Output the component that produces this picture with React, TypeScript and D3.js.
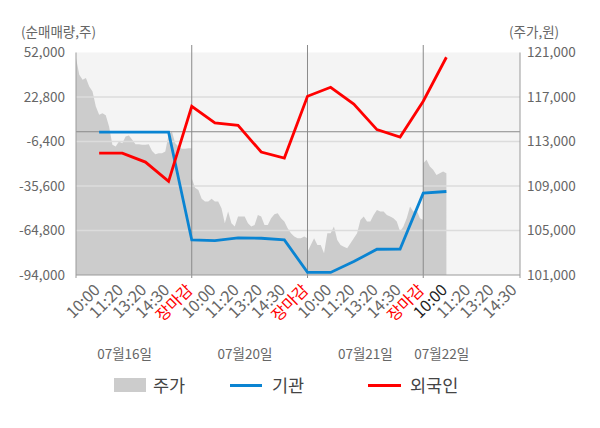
import React from "react";
import * as d3 from "d3";

// ---- data ----
const timeLabels = [
  "10:00", "11:20", "13:20", "14:30", "장마감",
  "10:00", "11:20", "13:20", "14:30", "장마감",
  "10:00", "11:20", "13:20", "14:30", "장마감",
  "10:00", "11:20", "13:20", "14:30",
];
const currentLabelIndex = 15;
const dateLabels = ["07월16일", "07월20일", "07월21일", "07월22일"];
const dateSlots = [2.1, 7.3, 12.5, 15.8];
const leftTicks = [52000, 22800, -6400, -35600, -64800, -94000];
const rightTicks = [121000, 117000, 113000, 109000, 105000, 101000];

// 기관 / 외국인 net volumes at 10:00, 11:20, 13:20, 14:30, 장마감 each day
const institution = [
  -300, -300, -300, -300, -71000,
  -71400, -69700, -69900, -71000, -92200,
  -92300, -85200, -77100, -77000, -40300,
  -39200,
];
const foreigner = [
  -14000, -14000, -19900, -32600, 16700,
  5800, 4200, -13300, -17300, 23300,
  29200, 18200, 1400, -3500, 20000,
  48900,
];

// stock price (주가) samples per day
const priceDay1 = [
  120500, 119000, 118550, 118700, 117950, 117500, 116150, 115400, 115550, 115350,
  114350, 112700, 112550, 113000, 112850, 113450, 113550, 113150, 112750, 112750,
  112700, 112700, 112750, 112150, 111850, 111950, 111950, 112100, 113600, 113900,
  112850, 112550, 112350, 112350, 112400, 112400,
];
const priceDay2 = [
  109700, 108850, 108650, 107850, 107600, 107600, 107850, 107600, 107600, 107000,
  105650, 106700, 105650, 105350, 106250, 106250, 106250, 105650, 105350, 105500,
  106400, 106250, 105500, 105500, 106100, 106450, 106550, 106100, 105800, 105200,
  104750, 104450, 104300, 104300, 104450, 104300,
];
const priceDay3 = [
  103100, 103700, 104300, 103700, 103700, 102950, 104750, 104750, 105350, 104150,
  103700, 103550, 103400, 103850, 104300, 104750, 105950, 106250, 105800, 105800,
  106400, 106850, 106700, 106700, 106400, 106250, 106100, 105800, 104900, 105350,
  106100, 107150, 106700, 106850, 106100, 105950,
];
const priceDay4 = [111050, 111350, 110750, 110450, 110000, 110150, 110300, 110150];
const priceDays = [priceDay1, priceDay2, priceDay3, priceDay4];

const W = 600;
const H = 428;
const FONT = "'Noto Sans CJK KR', 'Noto Sans', sans-serif";

export default function App() {
  const left = 76, right = 520, top = 52.5, bottom = 275;
  const x = d3.scaleLinear().domain([0, 19.18]).range([left, right]);
  const yL = d3.scaleLinear().domain([-94000, 52000]).range([bottom, top]);
  const yR = d3.scaleLinear().domain([101000, 121000]).range([bottom, top]);

  const pricePts: [number, number][] = [];
  priceDays.forEach((arr, d) => {
    arr.forEach((v, j) => pricePts.push([5 * d + (j * 5) / 35, v]));
  });
  const area = d3
    .area<[number, number]>()
    .x((p) => x(p[0]))
    .y0(bottom)
    .y1((p) => yR(p[1]));

  const line = d3
    .line<number>()
    .x((_, i) => x(i + 1))
    .y((v) => yL(v));

  const daySlots = [5, 10, 15];

  return (
    <div style={{ position: "absolute", left: 0, top: 0 }}>
      <svg width={W} height={H} style={{ display: "block", fontFamily: FONT }}>
        <rect x={0} y={0} width={W} height={H} fill="#fff" />
        <rect x={left} y={top} width={right - left} height={bottom - top} fill="#f4f4f4" />
        <path d={area(pricePts) || ""} fill="#cccccc" />
        {leftTicks.slice(1, -1).map((t) => (
          <line key={t} x1={left} x2={right} y1={yL(t)} y2={yL(t)} stroke="#dcdcdc" strokeWidth={1.5} />
        ))}
        <line x1={left} x2={right} y1={yL(0)} y2={yL(0)} stroke="#8a8a8a" strokeWidth={1} />
        {daySlots.map((s) => (
          <line key={s} x1={x(s)} x2={x(s)} y1={45} y2={278} stroke="#8a8a8a" strokeWidth={1} />
        ))}
        <line x1={left} x2={left} y1={top} y2={278} stroke="#9a9a9a" strokeWidth={1} />
        <line x1={right} x2={right} y1={top} y2={278} stroke="#9a9a9a" strokeWidth={1} />
        <line x1={left} x2={right} y1={bottom} y2={bottom} stroke="#9a9a9a" strokeWidth={1} />

        <path d={line(institution) || ""} fill="none" stroke="#0a84d2" strokeWidth={2.8} />
        <path d={line(foreigner) || ""} fill="none" stroke="#ff0000" strokeWidth={2.8} />

        {leftTicks.map((t) => (
          <text key={t} x={65} y={yL(t)} dy="0.35em" textAnchor="end" fontSize={13.5} fill="#666">
            {d3.format(",")(t).replace("−", "-")}
          </text>
        ))}
        {rightTicks.map((t) => (
          <text key={t} x={527} y={yR(t)} dy="0.35em" textAnchor="start" fontSize={13.5} fill="#666">
            {d3.format(",")(t)}
          </text>
        ))}
        <text x={21} y={37} fontSize={13.5} fill="#666">(순매매량,주)</text>
        <text x={509} y={37} fontSize={13.5} fill="#666">(주가,원)</text>

        {timeLabels.map((l, i) => (
          <text
            key={i}
            transform={`translate(${x(i + 1) + 2},${291}) rotate(-45)`}
            textAnchor="end"
            fontSize={16}
            fill={l === "장마감" ? "#ff0000" : i === currentLabelIndex ? "#222" : "#666"}
          >
            {l}
          </text>
        ))}
        {dateLabels.map((l, i) => (
          <text key={l} x={x(dateSlots[i])} y={359} textAnchor="middle" fontSize={13.5} fill="#666">
            {l}
          </text>
        ))}

        {/* legend */}
        <rect x={114} y={378} width={32} height={14} fill="#cccccc" />
        <text x={153} y={392} fontSize={17.5} fill="#444">주가</text>
        <line x1={230} x2={262} y1={385.5} y2={385.5} stroke="#0a84d2" strokeWidth={3} />
        <text x={272} y={392} fontSize={17.5} fill="#444">기관</text>
        <line x1={368} x2={401} y1={385.5} y2={385.5} stroke="#ff0000" strokeWidth={3} />
        <text x={410} y={392} fontSize={17.5} fill="#444">외국인</text>
      </svg>
    </div>
  );
}
